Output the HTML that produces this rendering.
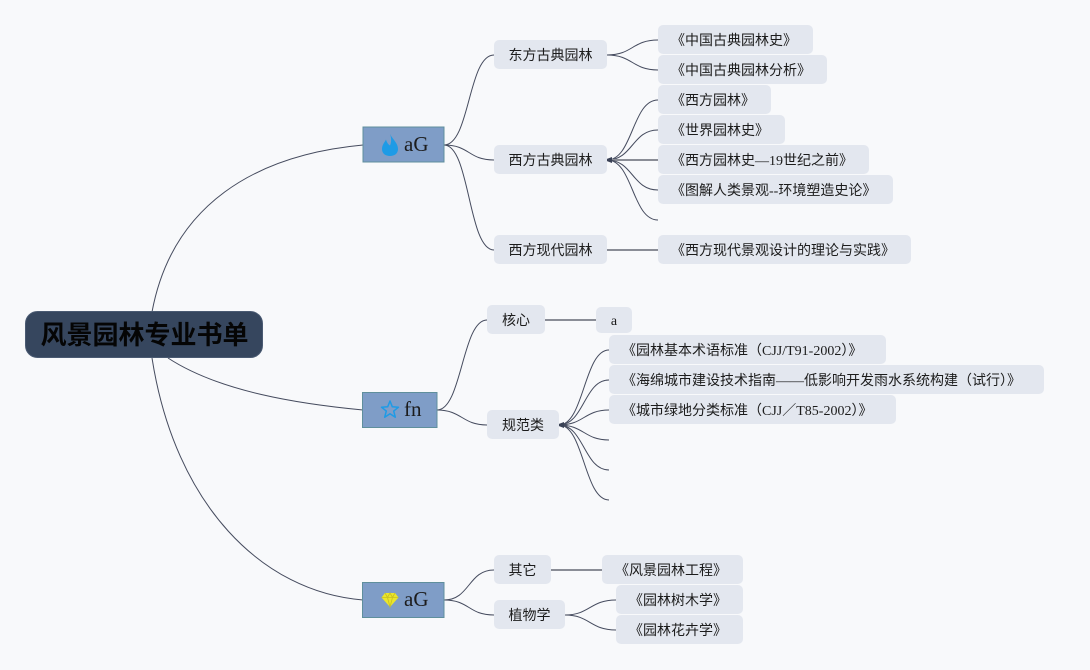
<!DOCTYPE html>
<html><head><meta charset="utf-8"><style>
html,body{margin:0;padding:0;background:#f8f9fb;}
svg{display:block;}
text{font-family:"Liberation Serif","Noto Sans CJK SC",serif;font-size:14px;fill:#1c1c1c;}
.cn{font-family:"Liberation Sans","Noto Sans CJK SC",sans-serif;}
.b2{fill:#e3e7ef;}
.c{fill:none;stroke:#454b5e;stroke-width:1;}
.s{fill:none;stroke:#8a8d96;stroke-width:2;}
.l1{fill:#7f9dc7;stroke:#5f8f9c;stroke-width:1;}
</style></head><body>
<svg width="1090" height="670" viewBox="0 0 1090 670" xmlns="http://www.w3.org/2000/svg">
<rect width="1090" height="670" fill="#f8f9fb"/>
<!-- root connectors -->
<path class="c" d="M152,312 C172,205 255,155 363,145"/>
<path class="c" d="M168,358 C220,392 300,404 363,410"/>
<path class="c" d="M152,358 C175,505 262,592 363,600"/>
<!-- L1 to L2 -->
<path class="c" d="M444,145 C470,145 468,55 494,55"/>
<path class="c" d="M444,145 C470,145 468,160 494,160"/>
<path class="c" d="M444,145 C470,145 468,250 494,250"/>
<path class="c" d="M437,410 C462,410 462,320 487,320"/>
<path class="c" d="M437,410 C462,410 462,425 487,425"/>
<path class="c" d="M444,600 C470,600 468,570 494,570"/>
<path class="c" d="M444,600 C470,600 468,615 494,615"/>
<!-- L2 to L3 -->
<path class="c" d="M607,55 C633,55 632,40 658,40"/>
<path class="c" d="M607,55 C633,55 632,70 658,70"/>
<path class="c" d="M607,160 C633,160 632,100 658,100"/>
<path class="c" d="M607,160 C633,160 632,130 658,130"/>
<path class="s" d="M607,160 L658,160"/>
<path class="c" d="M607,160 C633,160 632,190 658,190"/>
<path class="c" d="M607,160 C633,160 632,220 658,220"/>
<path class="s" d="M607,250 L658,250"/>
<path class="s" d="M545,320 L596,320"/>
<path class="c" d="M559,425 C584,425 584,350 609,350"/>
<path class="c" d="M559,425 C584,425 584,380 609,380"/>
<path class="c" d="M559,425 C584,425 584,410 609,410"/>
<path class="c" d="M559,425 C584,425 584,440 609,440"/>
<path class="c" d="M559,425 C584,425 584,470 609,470"/>
<path class="c" d="M559,425 C584,425 584,500 609,500"/>
<path class="s" d="M551,570 L602,570"/>
<path class="c" d="M565,615 C590,615 590,600 616,600"/>
<path class="c" d="M565,615 C590,615 590,630 616,630"/>
<path d="M604,160 L612,157 L612,163 Z" fill="#3a4256"/>
<path d="M556,425 L564,422 L564,428 Z" fill="#3a4256"/>

<!-- root -->
<rect x="25.5" y="311.5" width="237" height="46" rx="12" fill="#36465e" stroke="#4a5a72"/>
<text x="144.5" y="344" text-anchor="middle" class="cn" style="font-size:26px;font-weight:bold;fill:#050505;">风景园林专业书单</text>

<!-- L1 -->
<rect class="l1" x="363" y="127" width="81" height="35"/>
<path d="M390,134 C393,140 398,143 398,149 C398,153.5 394.5,156 390,156 C385.5,156 382,153.5 382,149 C382,145 384.5,142.5 386,139.5 C387,143 388.5,144.5 390,145.5 C391.5,142 391.5,138 390,134 Z" fill="#1e9be6"/>
<text x="404" y="151" style="font-size:21px;">aG</text>

<rect class="l1" x="362.5" y="392.5" width="74.5" height="35"/>
<path d="M390,401 L392.3,406.8 L398.5,407.2 L393.7,411.1 L395.3,417.2 L390,413.8 L384.7,417.2 L386.3,411.1 L381.5,407.2 L387.7,406.8 Z" fill="none" stroke="#1e9be6" stroke-width="1.5" stroke-linejoin="round"/>
<text x="404" y="416" style="font-size:21px;">fn</text>

<rect class="l1" x="362.5" y="582.5" width="81.5" height="35"/>
<path d="M385,593 L395,593 L398.5,597.5 L390,607 L381.5,597.5 Z" fill="#ebe62a"/>
<path d="M385,593 L387.5,597.5 L390,593 L392.5,597.5 L395,593 M381.5,597.5 L398.5,597.5 M387.5,597.5 L390,607 L392.5,597.5" fill="none" stroke="#c8c020" stroke-width="0.8"/>
<text x="404" y="606" style="font-size:21px;">aG</text>

<!-- L2 -->
<rect class="b2" x="494" y="40" width="113" height="29" rx="5"/><text x="550.5" y="60" text-anchor="middle">东方古典园林</text>
<rect class="b2" x="494" y="145" width="113" height="29" rx="5"/><text x="550.5" y="165" text-anchor="middle">西方古典园林</text>
<rect class="b2" x="494" y="235" width="113" height="29" rx="5"/><text x="550.5" y="255" text-anchor="middle">西方现代园林</text>
<rect class="b2" x="487" y="305" width="58" height="29" rx="5"/><text x="516" y="325" text-anchor="middle">核心</text>
<rect class="b2" x="487" y="410" width="72" height="29" rx="5"/><text x="523" y="430" text-anchor="middle">规范类</text>
<rect class="b2" x="494" y="555" width="57" height="29" rx="5"/><text x="522.5" y="575" text-anchor="middle">其它</text>
<rect class="b2" x="494" y="600" width="71" height="29" rx="5"/><text x="529.5" y="620" text-anchor="middle">植物学</text>

<!-- L3 -->
<rect class="b2" x="658" y="25" width="155" height="29" rx="5"/><text x="671" y="45">《中国古典园林史》</text>
<rect class="b2" x="658" y="55" width="169" height="29" rx="5"/><text x="671" y="75">《中国古典园林分析》</text>
<rect class="b2" x="658" y="85" width="113" height="29" rx="5"/><text x="671" y="105">《西方园林》</text>
<rect class="b2" x="658" y="115" width="127" height="29" rx="5"/><text x="671" y="135">《世界园林史》</text>
<rect class="b2" x="658" y="145" width="211" height="29" rx="5"/><text x="671" y="165">《西方园林史—19世纪之前》</text>
<rect class="b2" x="658" y="175" width="235" height="29" rx="5"/><text x="671" y="195">《图解人类景观--环境塑造史论》</text>
<rect class="b2" x="658" y="235" width="253" height="29" rx="5"/><text x="671" y="255">《西方现代景观设计的理论与实践》</text>
<rect class="b2" x="596" y="307" width="36" height="26" rx="5"/><text x="614" y="325" text-anchor="middle">a</text>
<rect class="b2" x="609" y="335" width="277" height="29" rx="5"/><text x="622" y="355">《园林基本术语标准（CJJ/T91-2002）》</text>
<rect class="b2" x="609" y="365" width="435" height="29" rx="5"/><text x="622" y="385">《海绵城市建设技术指南——低影响开发雨水系统构建（试行）》</text>
<rect class="b2" x="609" y="395" width="287" height="29" rx="5"/><text x="622" y="415">《城市绿地分类标准（CJJ／T85-2002）》</text>
<rect class="b2" x="602" y="555" width="141" height="29" rx="5"/><text x="615" y="575">《风景园林工程》</text>
<rect class="b2" x="616" y="585" width="127" height="29" rx="5"/><text x="629" y="605">《园林树木学》</text>
<rect class="b2" x="616" y="615" width="127" height="29" rx="5"/><text x="629" y="635">《园林花卉学》</text>
</svg>
</body></html>
